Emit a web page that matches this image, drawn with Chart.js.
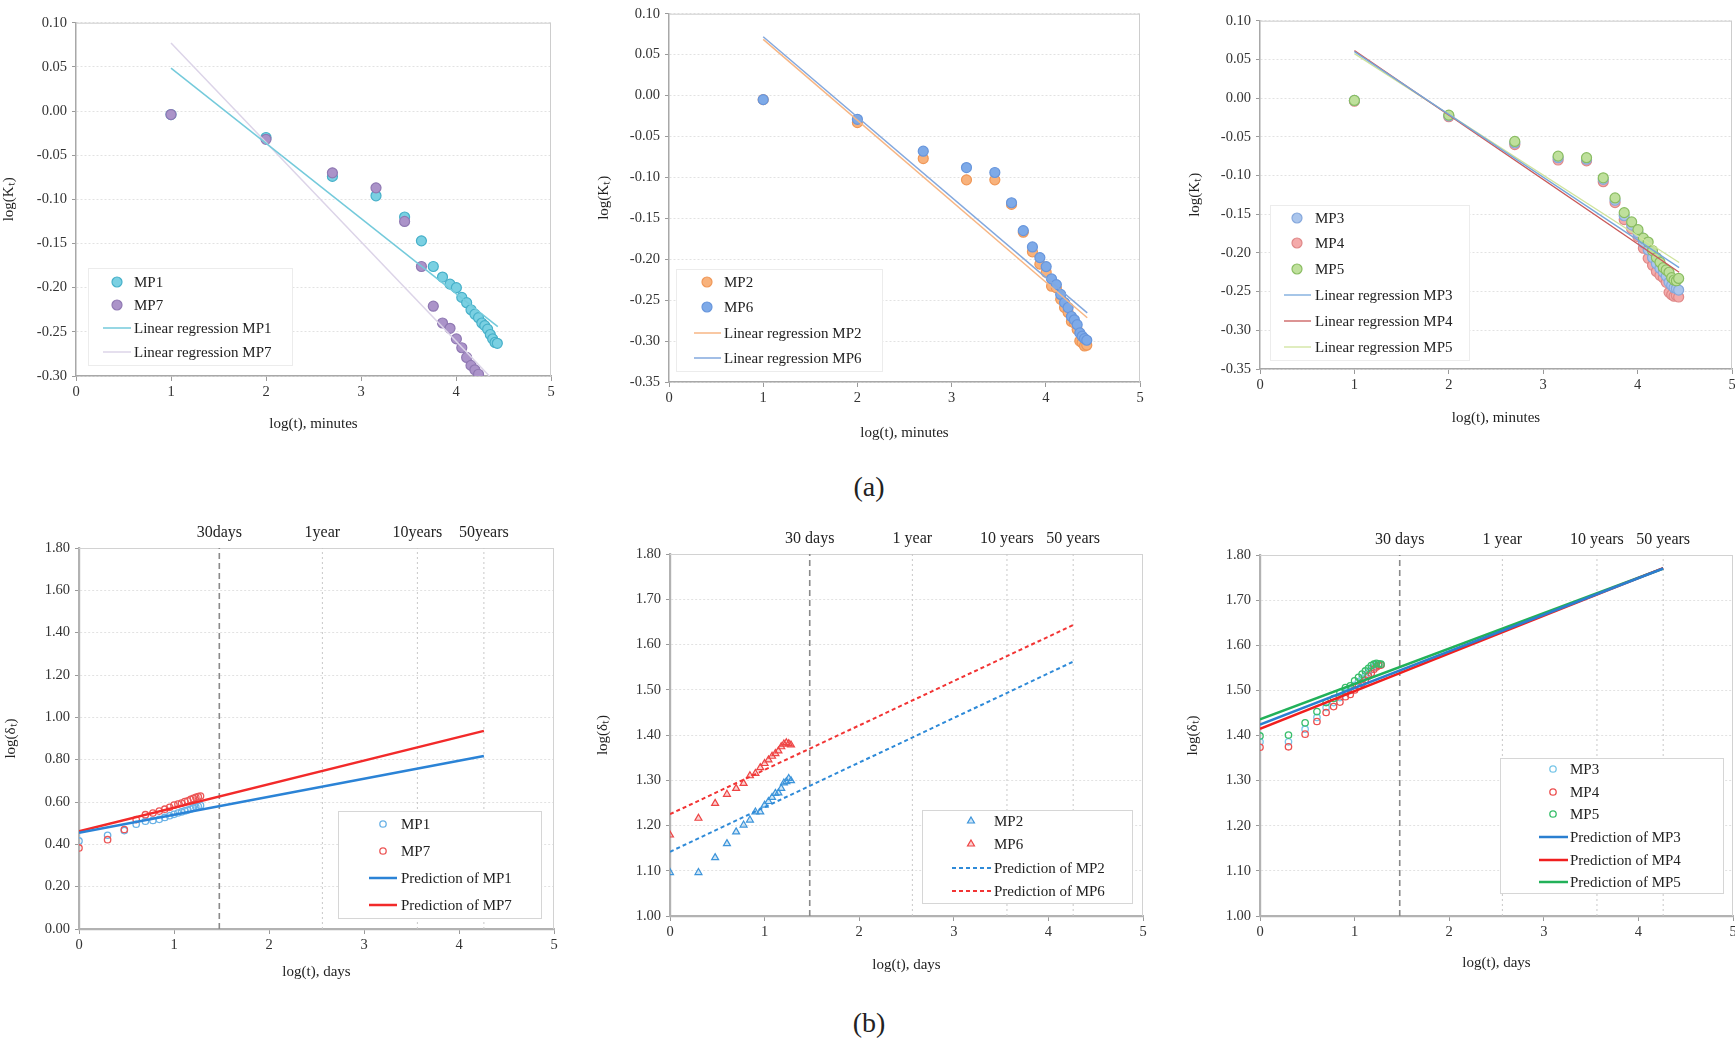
<!DOCTYPE html>
<html>
<head>
<meta charset="utf-8">
<script src="https://cdn.jsdelivr.net/npm/chart.js@4.4.1/dist/chart.umd.min.js"></script>
<style>
  html, body { margin: 0; padding: 0; width: 1735px; height: 1041px; overflow: hidden; background: #fff; }
  body { font-family: "Liberation Serif", "Times New Roman", serif; }
  .panel { position: absolute; }
  .cap { position: absolute; font-size: 28px; color: #222; transform: translate(-50%, -50%); }
</style>
</head>
<body>
<div class="cap" style="left:869px; top:487px">(a)</div>
<div class="cap" style="left:869px; top:1023px">(b)</div>
<script>
// ─── Data (a): log(K_t) vs log(t) in minutes ──────────────────────────────────
const minutesX = [1, 2, 2.699, 3.158, 3.459, 3.636, 3.761, 3.858, 3.937, 4.004, 4.061,
                  4.112, 4.158, 4.199, 4.237, 4.272, 4.303, 4.333, 4.361, 4.386, 4.411, 4.435];

const kMP1 = [-0.004, -0.030, -0.074, -0.096, -0.120, -0.147, -0.176, -0.188, -0.196, -0.200, -0.211,
              -0.217, -0.225, -0.230, -0.234, -0.240, -0.243, -0.247, -0.253, -0.258, -0.262, -0.263];
const kMP7 = [-0.004, -0.032, -0.070, -0.087, -0.125, -0.176, -0.221, -0.240, -0.246, -0.258, -0.268,
              -0.279, -0.288, -0.293, -0.298];
const kMP2 = [-0.005, -0.033, -0.077, -0.103, -0.103, -0.133, -0.167, -0.191, -0.206, -0.216, -0.233,
              -0.235, -0.249, -0.259, -0.265, -0.276, -0.278, -0.286, -0.300, -0.302, -0.306, -0.305];
const kMP6 = [-0.005, -0.029, -0.068, -0.088, -0.094, -0.131, -0.165, -0.185, -0.198, -0.209, -0.224,
              -0.231, -0.243, -0.253, -0.259, -0.270, -0.274, -0.280, -0.290, -0.294, -0.297, -0.299];
const kMP3 = [-0.003, -0.023, -0.058, -0.077, -0.079, -0.105, -0.132, -0.152, -0.164, -0.174, -0.187,
              -0.196, -0.206, -0.214, -0.220, -0.225, -0.230, -0.238, -0.242, -0.245, -0.246, -0.248];
const kMP4 = [-0.004, -0.024, -0.060, -0.080, -0.081, -0.108, -0.135, -0.157, -0.169, -0.179, -0.194,
              -0.207, -0.216, -0.224, -0.229, -0.232, -0.238, -0.251, -0.254, -0.256, -0.255, -0.257];
const kMP5 = [-0.003, -0.022, -0.056, -0.075, -0.077, -0.103, -0.129, -0.148, -0.160, -0.170, -0.181,
              -0.186, -0.197, -0.206, -0.212, -0.219, -0.222, -0.225, -0.232, -0.235, -0.236, -0.233];

// regression line end points
const regX   = [1, 4.44];
const regMP1 = [0.0485, -0.244];
const regMP7 = [0.077, -0.310];
const regMP2 = [0.0686, -0.2715];
const regMP6 = [0.0718, -0.2655];
const regMP3 = [0.060, -0.219];
const regMP4 = [0.0613, -0.225];
const regMP5 = [0.0575, -0.2124];

// ─── Data (b): log(δ_t) vs log(t) in days ─────────────────────────────────────
const daysX = [0, 0.301, 0.477, 0.602, 0.699, 0.778, 0.845, 0.903, 0.954, 1, 1.041,
               1.079, 1.114, 1.146, 1.176, 1.204, 1.230, 1.255, 1.279];

const dMP1 = [0.416, 0.443, 0.465, 0.495, 0.509, 0.513, 0.518, 0.527, 0.535, 0.542, 0.548,
              0.553, 0.558, 0.562, 0.567, 0.572, 0.576, 0.580, 0.584];
const dMP7 = [0.383, 0.422, 0.470, 0.517, 0.540, 0.548, 0.557, 0.566, 0.575, 0.585, 0.590,
              0.595, 0.602, 0.606, 0.612, 0.617, 0.622, 0.625, 0.628];
const dMP2 = [1.096, 1.096, 1.129, 1.160, 1.186, 1.201, 1.212, 1.230, 1.230, 1.245, 1.253,
              1.262, 1.271, 1.272, 1.282, 1.294, 1.297, 1.304, 1.299];
const dMP6 = [1.179, 1.216, 1.249, 1.269, 1.282, 1.293, 1.310, 1.315, 1.328, 1.337, 1.345,
              1.353, 1.359, 1.365, 1.374, 1.380, 1.383, 1.381, 1.378];
const dMP3 = [1.386, 1.386, 1.414, 1.440, 1.462, 1.473, 1.484, 1.496, 1.500, 1.511, 1.519,
              1.526, 1.533, 1.540, 1.546, 1.552, 1.556, 1.557, 1.557];
const dMP4 = [1.374, 1.375, 1.403, 1.431, 1.451, 1.464, 1.474, 1.486, 1.491, 1.501, 1.510,
              1.516, 1.523, 1.532, 1.538, 1.547, 1.552, 1.555, 1.556];
const dMP5 = [1.399, 1.401, 1.428, 1.453, 1.473, 1.482, 1.495, 1.506, 1.510, 1.521, 1.529,
              1.536, 1.543, 1.549, 1.555, 1.558, 1.560, 1.559, 1.558];

// prediction line end points
const predX   = [0, 4.262];
const predMP1 = [0.455, 0.817];
const predMP7 = [0.462, 0.936];
const predMP2 = [1.142, 1.562];
const predMP6 = [1.225, 1.643];
const predMP3 = [1.424, 1.770];
const predMP4 = [1.415, 1.771];
const predMP5 = [1.436, 1.770];

// time markers (30 days, 1 year, 10 years, 50 years)
const markerX       = [1.477, 2.562, 3.562, 4.262];
const markerLabelsA = ['30days', '1year', '10years', '50years'];
const markerLabelsB = ['30 days', '1 year', '10 years', '50 years'];

// ─── Ticks ────────────────────────────────────────────────────────────────────
const xTicks    = [0, 1, 2, 3, 4, 5];
const yTicksK1  = [-0.30, -0.25, -0.20, -0.15, -0.10, -0.05, 0.00, 0.05, 0.10];
const yTicksK2  = [-0.35, -0.30, -0.25, -0.20, -0.15, -0.10, -0.05, 0.00, 0.05, 0.10];
const yTicksD1  = [0.00, 0.20, 0.40, 0.60, 0.80, 1.00, 1.20, 1.40, 1.60, 1.80];
const yTicksD2  = [1.00, 1.10, 1.20, 1.30, 1.40, 1.50, 1.60, 1.70, 1.80];

// ─── Helpers ──────────────────────────────────────────────────────────────────
const SERIF = '"Liberation Serif", "Times New Roman", serif';
Chart.defaults.font.family = SERIF;
Chart.defaults.color = '#333';

const pts = (xs, ys) => ys.map((y, i) => ({ x: xs[i], y }));
const fixedTicks = arr => scale => { scale.ticks = arr.map(v => ({ value: v })); };

function dots(label, rank, xs, ys, fill, stroke, style = 'circle', r = 5, bw = 1.2) {
  return {
    legendText: label, legendRank: rank, data: pts(xs, ys), showLine: false,
    pointStyle: style, pointRadius: r, pointBorderWidth: bw,
    pointBackgroundColor: fill, pointBorderColor: stroke,
    backgroundColor: fill, borderColor: stroke,
  };
}

function line(label, rank, xs, ys, color, width = 1.5, dash = []) {
  return {
    legendText: label, legendRank: rank, data: pts(xs, ys), showLine: true,
    borderColor: color, borderWidth: width, borderDash: dash, pointRadius: 0, tension: 0,
  };
}

function markerLines(yMin, yMax) {
  return markerX.map((x, i) => ({
    data: [{ x, y: yMin }, { x, y: yMax }], showLine: true, pointRadius: 0,
    borderColor: i === 0 ? '#8a8a8a' : '#c8c8c8',
    borderWidth: i === 0 ? 1.6 : 1,
    borderDash: i === 0 ? [6, 4] : [2, 3],
  }));
}

function drawMarker(ctx, style, x, y, r) {
  ctx.beginPath();
  if (style === 'triangle') {
    for (let k = 0; k < 3; k++) {
      const a = k * 2 * Math.PI / 3;
      const px = x + Math.sin(a) * r, py = y - Math.cos(a) * r;
      k === 0 ? ctx.moveTo(px, py) : ctx.lineTo(px, py);
    }
    ctx.closePath();
  } else {
    ctx.arc(x, y, r, 0, Math.PI * 2);
  }
  ctx.fill();
  ctx.stroke();
}

// top + right edge of the plot box
const frame = {
  id: 'frame',
  beforeDatasetsDraw(chart, args, o) {
    const { left, right, top, bottom } = chart.chartArea;
    const ctx = chart.ctx;
    ctx.save();
    ctx.strokeStyle = o.color;
    ctx.lineWidth = 1;
    ctx.beginPath();
    ctx.moveTo(left, top + 0.5);     ctx.lineTo(right, top + 0.5);
    ctx.moveTo(right - 0.5, top);    ctx.lineTo(right - 0.5, bottom);
    ctx.stroke();
    ctx.restore();
  },
};

// legend box sitting inside the plot area
const boxLegend = {
  id: 'boxLegend',
  afterDatasetsDraw(chart, args, o) {
    if (!o || !o.box) return;
    const ctx = chart.ctx;
    const dx = o.offX, dy = o.offY;
    const items = chart.data.datasets.filter(d => d.legendText).sort((a, b) => a.legendRank - b.legendRank);
    const [bx0, by0, bx1, by1] = o.box;
    ctx.save();
    ctx.fillStyle = '#fff';
    ctx.fillRect(bx0 - dx, by0 - dy, bx1 - bx0, by1 - by0);
    ctx.strokeStyle = o.border;
    ctx.lineWidth = 1;
    ctx.strokeRect(bx0 - dx + 0.5, by0 - dy + 0.5, bx1 - bx0, by1 - by0);
    items.forEach((d, i) => {
      const y = o.rows[i] - dy;
      if (d.showLine) {
        ctx.strokeStyle = d.borderColor;
        ctx.lineWidth = d.borderWidth;
        ctx.setLineDash(d.borderDash || []);
        ctx.beginPath();
        ctx.moveTo(o.line[0] - dx, y);
        ctx.lineTo(o.line[1] - dx, y);
        ctx.stroke();
        ctx.setLineDash([]);
      } else {
        ctx.fillStyle = d.pointBackgroundColor;
        ctx.strokeStyle = d.pointBorderColor;
        ctx.lineWidth = d.pointBorderWidth;
        drawMarker(ctx, d.pointStyle, o.sym - dx, y, d.pointRadius);
      }
      ctx.fillStyle = '#222';
      ctx.font = `15px ${SERIF}`;
      ctx.textBaseline = 'middle';
      ctx.textAlign = 'left';
      ctx.fillText(d.legendText, o.text - dx, y + 1);
    });
    ctx.restore();
  },
};

function makePanel(p) {
  const topPad = p.markerLabels ? 40 : 10;
  const [aL, aT, aR, aB] = p.area;
  const left = aL - p.wy, top = aT - topPad;
  const width = aR + 12 - left, height = aB + p.hx - top;

  const div = document.createElement('div');
  div.className = 'panel';
  Object.assign(div.style, { left: left + 'px', top: top + 'px', width: width + 'px', height: height + 'px' });
  const canvas = document.createElement('canvas');
  div.appendChild(canvas);
  document.body.appendChild(div);

  const scales = {
    x: {
      type: 'linear', min: 0, max: 5,
      afterBuildTicks: fixedTicks(xTicks),
      afterFit: s => { s.height = p.hx; },
      ticks: { font: { size: 14.5 }, color: '#333', padding: 2, maxRotation: 0, autoSkip: false, callback: v => String(v) },
      grid: { drawOnChartArea: false, drawTicks: true, tickLength: 5, tickColor: '#9a9a9a' },
      border: { color: p.axisColor, width: p.axisWidth },
      title: { display: true, text: p.xTitle, font: { size: 15 }, color: '#222', padding: 0 },
    },
    y: {
      type: 'linear', min: p.yTicks[0], max: p.yTicks[p.yTicks.length - 1],
      afterBuildTicks: fixedTicks(p.yTicks),
      afterFit: s => { s.width = p.wy; },
      ticks: { font: { size: 14.5 }, color: '#333', padding: 5, autoSkip: false, callback: v => v.toFixed(2) },
      grid: { color: '#e2e2e2', lineWidth: 1, drawTicks: true, tickLength: 4, tickColor: '#9a9a9a' },
      border: { color: p.axisColor, width: p.axisWidth, dash: [2, 2] },
      title: { display: true, text: p.yTitle, font: { size: 15 }, color: '#222', padding: 0 },
    },
  };
  if (p.markerLabels) {
    scales.x2 = {
      type: 'linear', position: 'top', min: 0, max: 5,
      afterBuildTicks: fixedTicks(markerX),
      afterFit: s => { s.height = 40; },
      ticks: { font: { size: 16 }, color: '#222', padding: -2, maxRotation: 0, autoSkip: false,
               callback: (v, i) => p.markerLabels[i] },
      grid: { display: false },
      border: { display: false },
    };
  }

  new Chart(canvas, {
    type: 'scatter',
    data: { datasets: p.datasets },
    options: {
      responsive: true, maintainAspectRatio: false, animation: false, events: [],
      layout: { padding: { top: p.markerLabels ? 0 : 10, right: 12, left: 0, bottom: 0 } },
      scales,
      plugins: {
        legend: { display: false },
        tooltip: { enabled: false },
        frame: { color: p.frameColor },
        boxLegend: Object.assign({}, p.legend, { offX: left, offY: top }),
      },
    },
    plugins: [frame, boxLegend],
  });
}

// ─── Panels ───────────────────────────────────────────────────────────────────
const yTitleK = 'log(Kₜ)';
const yTitleD = 'log(δₜ)';

// (a) left
makePanel({
  area: [76, 19, 551, 376], wy: 76, hx: 57,
  xTitle: 'log(t), minutes', yTitle: yTitleK, yTicks: yTicksK1,
  axisColor: '#a8a8a8', axisWidth: 1.5, frameColor: '#cdcdcd',
  legend: { box: [88, 268, 292, 365], rows: [282, 305, 328, 352], sym: 117, line: [103, 131], text: 134, border: '#ececec' },
  datasets: [
    line('Linear regression MP1', 3, regX, regMP1, '#74cadb', 1.5),
    line('Linear regression MP7', 4, regX, regMP7, '#dcd4e8', 1.5),
    dots('MP7', 2, minutesX, kMP7, '#ab93c9', '#9079b3'),
    dots('MP1', 1, minutesX, kMP1, '#7ad0e2', '#47b0c9'),
  ],
});

// (a) middle
makePanel({
  area: [669, 10, 1140, 382], wy: 74, hx: 60,
  xTitle: 'log(t), minutes', yTitle: yTitleK, yTicks: yTicksK2,
  axisColor: '#a8a8a8', axisWidth: 1.5, frameColor: '#cdcdcd',
  legend: { box: [676, 269, 882, 371], rows: [282, 307, 333, 358], sym: 707, line: [694, 721], text: 724, border: '#ececec' },
  datasets: [
    line('Linear regression MP2', 3, regX, regMP2, '#f7b684', 1.5),
    line('Linear regression MP6', 4, regX, regMP6, '#83a8de', 1.5),
    dots('MP6', 2, minutesX, kMP6, '#7eaae8', '#6896dc'),
    dots('MP2', 1, minutesX, kMP2, '#f8b27c', '#f09858'),
  ],
});

// (a) right
makePanel({
  area: [1260, 17, 1732, 369], wy: 74, hx: 58,
  xTitle: 'log(t), minutes', yTitle: yTitleK, yTicks: yTicksK2,
  axisColor: '#a8a8a8', axisWidth: 1.5, frameColor: '#cdcdcd',
  legend: { box: [1270, 205, 1469, 360], rows: [218, 243, 269, 295, 321, 347], sym: 1297, line: [1284, 1311], text: 1315, border: '#ececec' },
  datasets: [
    line('Linear regression MP3', 4, regX, regMP3, '#76a7dc', 1.3),
    line('Linear regression MP4', 5, regX, regMP4, '#c95a5a', 1.3),
    line('Linear regression MP5', 6, regX, regMP5, '#cfe39c', 1.3),
    dots('MP5', 3, minutesX, kMP5, '#bfe09c', '#8abd62'),
    dots('MP3', 1, minutesX, kMP3, '#aac5ec', '#86a8dc'),
    dots('MP4', 2, minutesX, kMP4, '#f4aaaa', '#df8888'),
  ],
});

// (b) left
makePanel({
  area: [79, 548, 554, 929], wy: 77, hx: 52, markerLabels: markerLabelsA,
  xTitle: 'log(t), days', yTitle: yTitleD, yTicks: yTicksD1,
  axisColor: '#b2b2b2', axisWidth: 2.2, frameColor: '#d2d2d2',
  legend: { box: [338, 811, 541, 918], rows: [824, 851, 878, 905], sym: 383, line: [369, 397], text: 401, border: '#d6d6d6' },
  datasets: [
    line('Prediction of MP1', 3, predX, predMP1, '#2b83d6', 2.5),
    line('Prediction of MP7', 4, predX, predMP7, '#f22a2a', 2.5),
    dots('MP7', 2, daysX, dMP7, 'rgba(255,255,255,0)', '#ec5656', 'circle', 3.2, 1.3),
    dots('MP1', 1, daysX, dMP1, 'rgba(255,255,255,0)', '#6ab2e6', 'circle', 3.2, 1.3),
    ...markerLines(0, 1.8),
  ],
});

// (b) middle
makePanel({
  area: [670, 554, 1143, 916], wy: 76, hx: 58, markerLabels: markerLabelsB,
  xTitle: 'log(t), days', yTitle: yTitleD, yTicks: yTicksD2,
  axisColor: '#b2b2b2', axisWidth: 2.2, frameColor: '#d2d2d2',
  legend: { box: [922, 810, 1132, 903], rows: [821, 844, 868, 891], sym: 971, line: [952, 991], text: 994, border: '#d6d6d6' },
  datasets: [
    line('Prediction of MP2', 3, predX, predMP2, '#2e8ad8', 2, [4, 3]),
    line('Prediction of MP6', 4, predX, predMP6, '#f23434', 2, [4, 3]),
    dots('MP6', 2, daysX, dMP6, 'rgba(240,70,70,0.25)', '#ee4444', 'triangle', 4, 1.2),
    dots('MP2', 1, daysX, dMP2, 'rgba(60,150,220,0.25)', '#3c94da', 'triangle', 4, 1.2),
    ...markerLines(1, 1.8),
  ],
});

// (b) right
makePanel({
  area: [1260, 555, 1733, 916], wy: 76, hx: 56, markerLabels: markerLabelsB,
  xTitle: 'log(t), days', yTitle: yTitleD, yTicks: yTicksD2,
  axisColor: '#b2b2b2', axisWidth: 2.2, frameColor: '#d2d2d2',
  legend: { box: [1500, 758, 1723, 893], rows: [769, 792, 814, 837, 860, 882], sym: 1553, line: [1539, 1568], text: 1570, border: '#d6d6d6' },
  datasets: [
    line('Prediction of MP3', 4, predX, predMP3, '#2a7fd0', 2.5),
    line('Prediction of MP4', 5, predX, predMP4, '#f01f1f', 2.5),
    line('Prediction of MP5', 6, predX, predMP5, '#22b159', 2.5),
    dots('MP5', 3, daysX, dMP5, 'rgba(255,255,255,0)', '#38be6a', 'circle', 3.2, 1.3),
    dots('MP4', 2, daysX, dMP4, 'rgba(255,255,255,0)', '#ec4f4f', 'circle', 3.2, 1.3),
    dots('MP3', 1, daysX, dMP3, 'rgba(255,255,255,0)', '#78c6e8', 'circle', 3.2, 1.3),
    ...markerLines(1, 1.8),
  ],
});
</script>
</body>
</html>
